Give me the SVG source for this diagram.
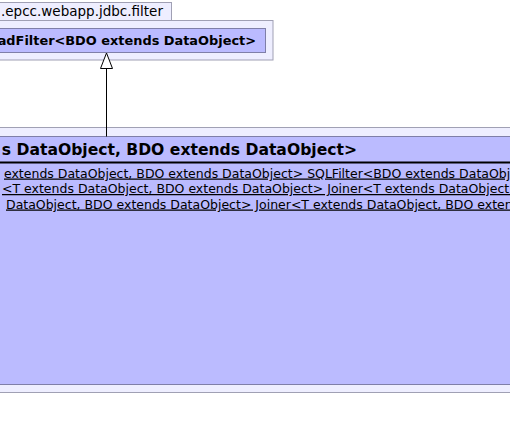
<svg xmlns="http://www.w3.org/2000/svg" width="510" height="430" viewBox="0 0 510 430">
<style>
.pkg{fill:#eeeeff;stroke:#a0a0b4;stroke-width:1}
.cls{fill:#bbbbff;stroke:#7f7fa8;stroke-width:1}
.t{font-family:"DejaVu Sans",sans-serif;fill:#000}
.b{font-weight:bold}
.u{text-decoration:underline}
</style>
<rect width="510" height="430" fill="#ffffff"/>
<g id="pkg-filter">
<rect class="pkg" x="-10" y="2.5" width="181.5" height="18"/>
<rect class="pkg" x="-10" y="20.5" width="283" height="39.5"/>
<text class="t" x="1" y="16" font-size="13.5">.epcc.webapp.jdbc.filter</text>
</g>
<g id="node-readfilter">
<rect class="cls" x="-10" y="28.5" width="275.5" height="24"/>
<text class="t b" x="256" y="45" font-size="12.9" text-anchor="end">adFilter&lt;BDO extends DataObject&gt;</text>
</g>
<g id="pkg-lower">
<rect class="pkg" x="-10" y="127.5" width="530" height="265"/>
</g>
<g id="node-sqlfilter">
<rect class="cls" x="-10" y="136.5" width="530" height="248"/>
<text class="t b" x="357" y="155" font-size="15.6" text-anchor="end">s DataObject, BDO extends DataObject&gt;</text>
<line x1="-10" y1="162.5" x2="520" y2="162.5" stroke="#000" stroke-width="2"/>
<text class="t u" x="4" y="177.5" font-size="12.5">extends DataObject, BDO extends DataObject&gt; SQLFilter&lt;BDO extends DataObject&gt;</text>
<text class="t u" x="2" y="193" font-size="12.5">&lt;T extends DataObject, BDO extends DataObject&gt; Joiner&lt;T extends DataObject, BDO</text>
<text class="t u" x="6" y="208.5" font-size="12.5">DataObject, BDO extends DataObject&gt; Joiner&lt;T extends DataObject, BDO extends DataObject&gt;</text>
</g>
<g id="connectors">
<line x1="106.5" y1="68" x2="106.5" y2="136.5" stroke="#000" stroke-width="1"/>
<polygon points="106.5,53 100.5,68.5 112.5,68.5" fill="#ffffff" stroke="#000" stroke-width="1"/>
</g>
</svg>
